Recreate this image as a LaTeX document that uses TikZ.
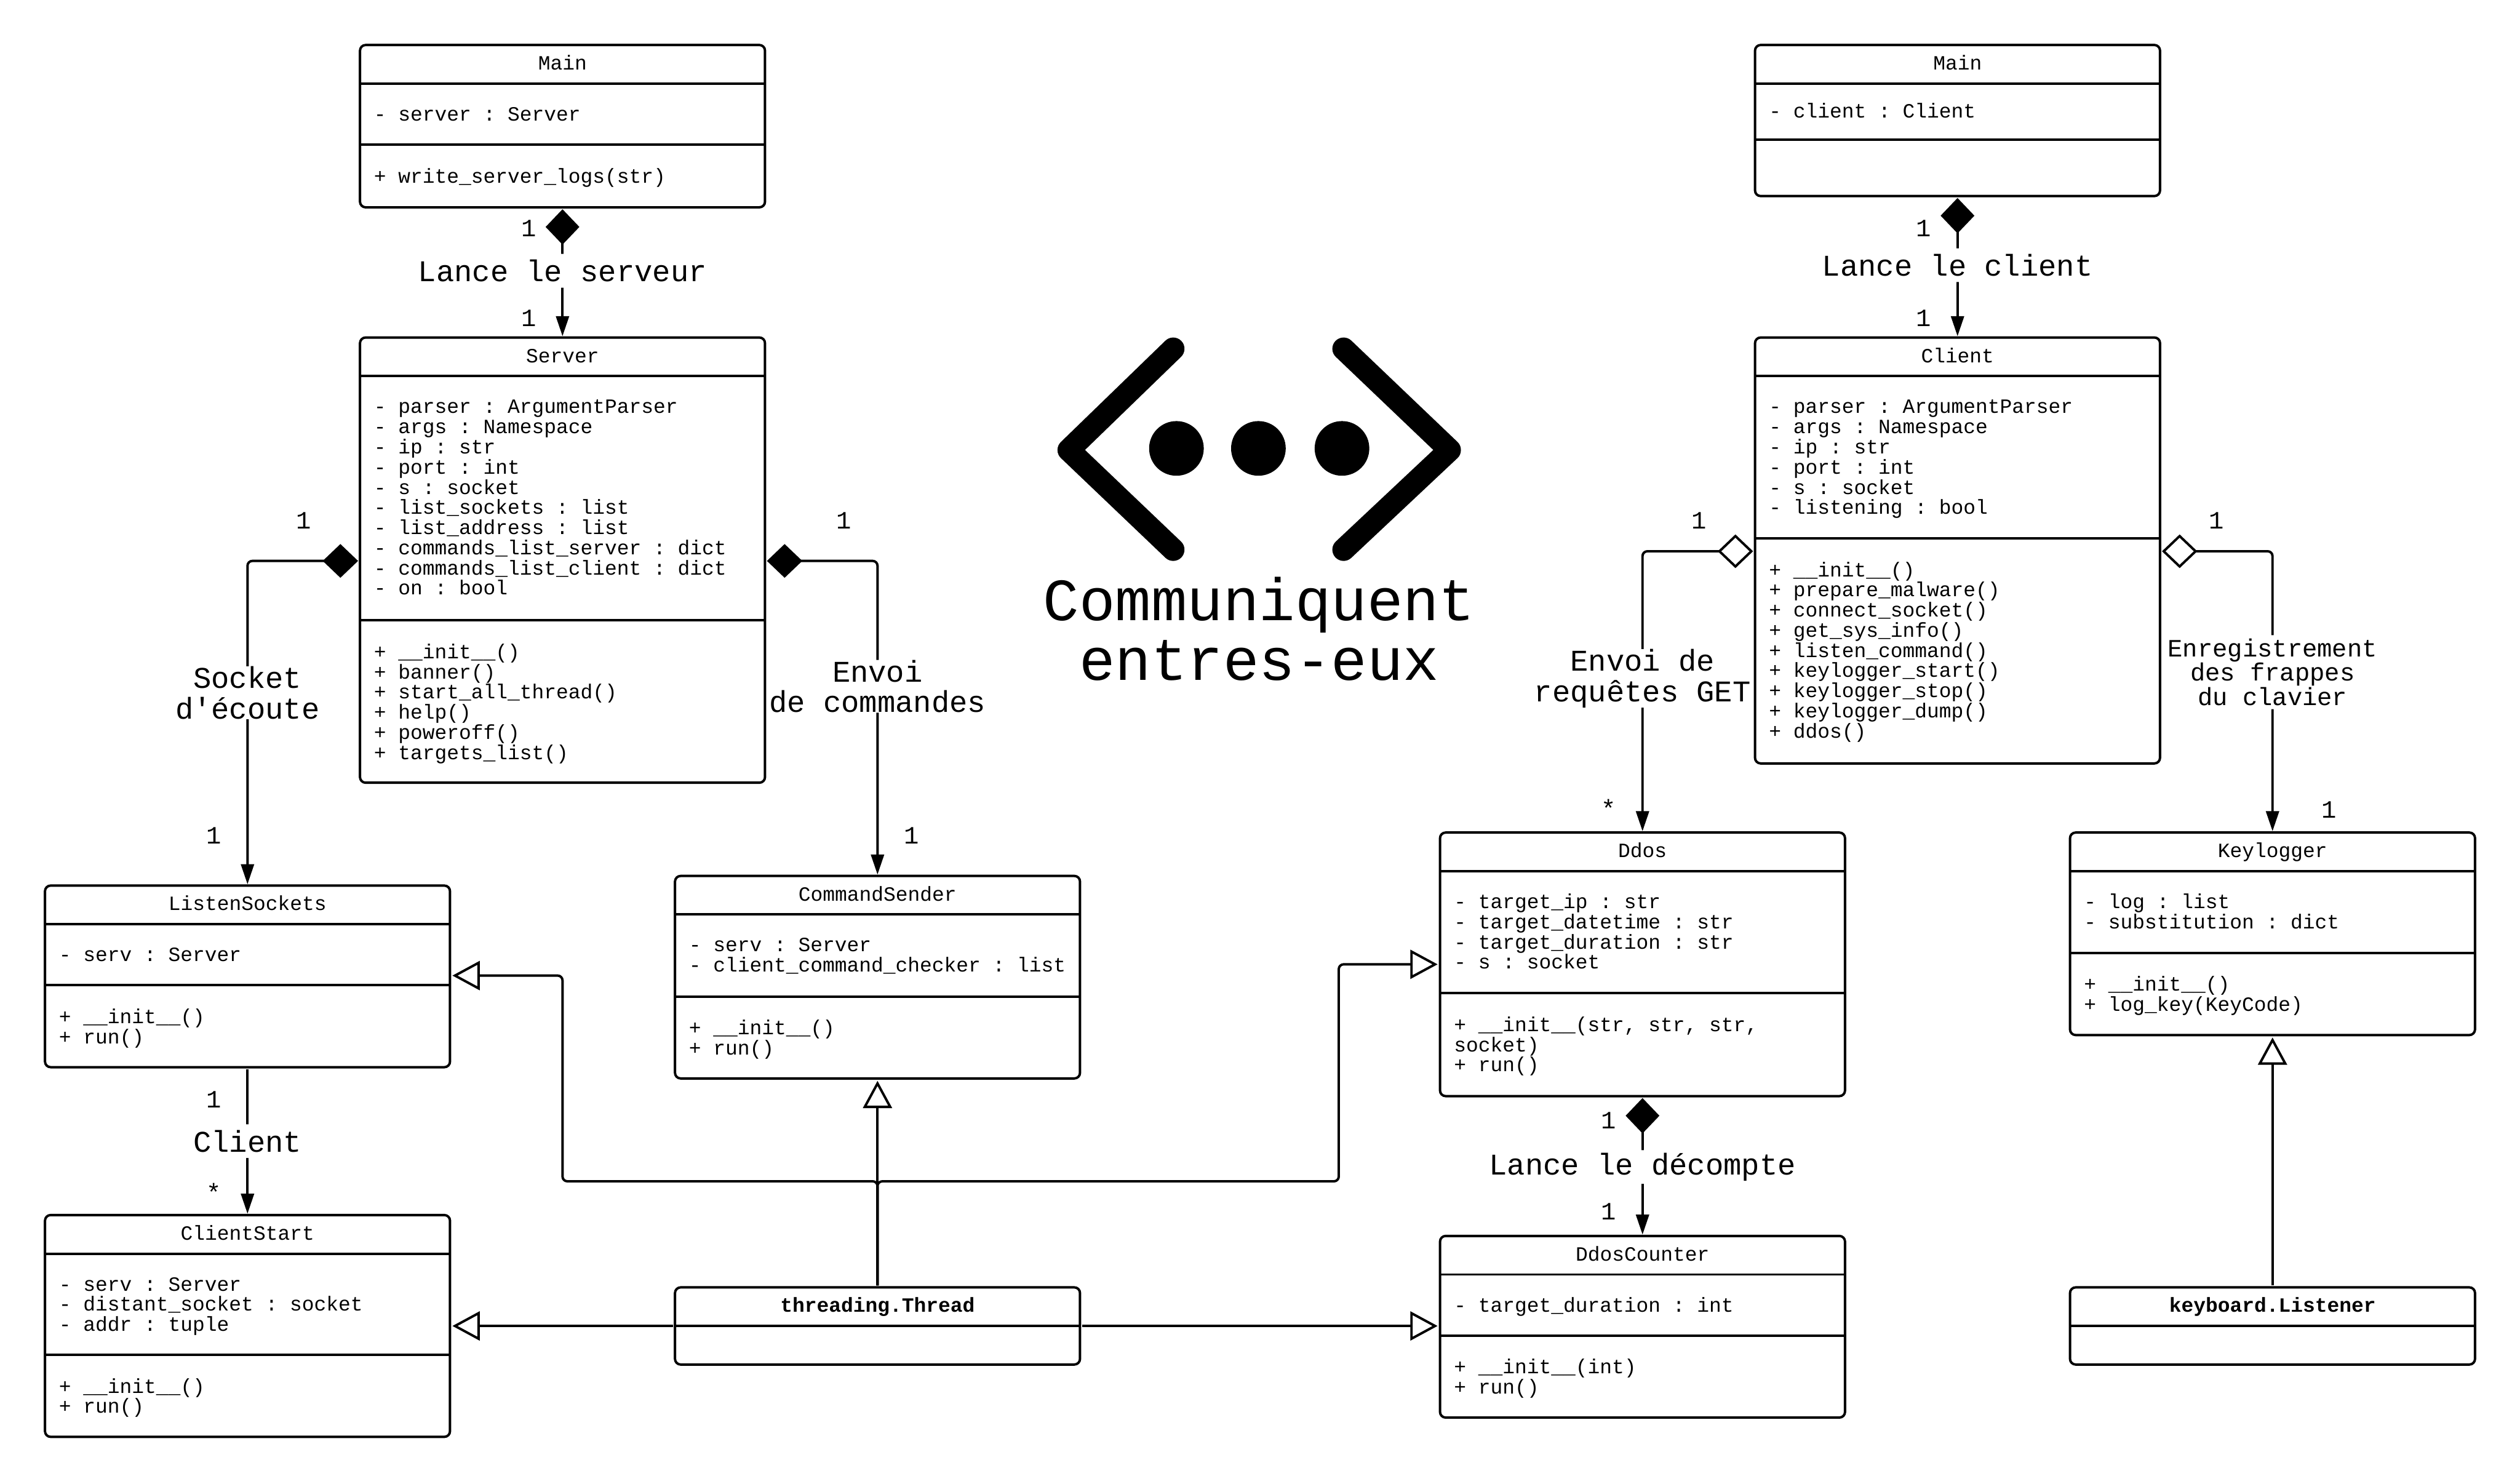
\documentclass[tikz,border=0pt]{standalone}
\usepackage{fontspec}
\usetikzlibrary{arrows.meta}
\newfontfamily\umlfont{Liberation Mono}
\frenchspacing
\tikzset{
  x=1pt,y=-1pt,
  classbox/.style={draw=black,fill=white,line width=1.5pt,rounded corners=3.5pt,inner sep=0pt,outer sep=0pt,minimum width=252pt,anchor=north west},
  sepline/.style={line width=1.5pt},
  titletext/.style={font=\umlfont\fontsize{12.6}{12.55}\selectfont,inner sep=0pt,anchor=base},
  bodytext/.style={font=\umlfont\fontsize{12.6}{12.55}\selectfont,inner sep=0pt,anchor=north west,align=left},
  mult/.style={font=\umlfont\fontsize{15.5}{15.5}\selectfont,inner sep=0pt},
  lbl/.style={font=\umlfont\fontsize{18.7}{19}\selectfont,fill=white,inner xsep=1pt,inner ysep=0pt,minimum height=21pt,align=center},
  lblsmall/.style={font=\umlfont\fontsize{15.5}{15.3}\selectfont,fill=white,inner xsep=1pt,inner ysep=2pt,align=center},
  conn/.style={line width=1.5pt,rounded corners=3pt,shorten <=1.2pt,shorten >=0.8pt},
  comp/.style={conn,{Diamond[length=22pt,width=21pt]}-{Triangle[length=12.5pt,width=8pt]}},
  aggr/.style={conn,{Diamond[open,fill=white,length=22pt,width=21pt]}-{Triangle[length=12.5pt,width=8pt]}},
  assoc/.style={conn,-{Triangle[length=12.5pt,width=8pt]}},
  inherit/.style={conn,shorten >=1.5pt,-{Triangle[open,fill=white,length=17pt,width=18pt]}},
  logostroke/.style={line width=14pt,line cap=round,line join=round},
}
% name, x, top, title bottom, attr bottom, box bottom, title, attrs, methods
\newcommand{\classbody}[9]{%
  \node[classbox,minimum height={(#6-#3)*1pt}] (#1) at (#2,#3) {};
  \draw[sepline] (#1.west |- 0,#4) -- (#1.east |- 0,#4);
  \draw[sepline] (#1.west |- 0,#5) -- (#1.east |- 0,#5);
  \node[titletext] (#1-t) at (#2+126,#3+15.5) {#7};
  \node[bodytext] (#1-a) at (#2+8.5,#4+\attroff-9.5) {\rule{0pt}{9.5pt}#8};
  \if\relax\detokenize{#9}\relax\else
  \node[bodytext] (#1-m) at (#2+8.5,#5+23.5-9.5) {\rule{0pt}{9.5pt}#9};
  \fi
}
\newcommand{\attroff}{23}
\newcommand{\classstub}[6]{%
  \node[classbox,minimum height={(#5-#3)*1pt}] (#1) at (#2,#3) {};
  \draw[sepline] (#1.west |- 0,#4) -- (#1.east |- 0,#4);
  \node[titletext] (#1-t) at (#2+126,#3+15.5) {\bfseries #6};
}
\begin{document}
\begin{tikzpicture}
\useasboundingbox[fill=white] (0,0) rectangle (1568,923.25);

% ---- classes ----
\classbody{mainL}{224}{28}{52}{90}{129}{Main}{- server : Server}{+ write\_server\_logs(str)}
\classbody{serverL}{224}{210}{234}{386}{487}{Server}{- parser : ArgumentParser\\- args : Namespace\\- ip : str\\- port : int\\- s : socket\\- list\_sockets : list\\- list\_address : list\\- commands\_list\_server : dict\\- commands\_list\_client : dict\\- on : bool}{+ \_\_init\_\_()\\+ banner()\\+ start\_all\_thread()\\+ help()\\+ poweroff()\\+ targets\_list()}
\classbody{listen}{28}{551}{575}{613}{664}{ListenSockets}{- serv : Server}{+ \_\_init\_\_()\\+ run()}
\classbody{clientstart}{28}{756}{780}{843}{894}{ClientStart}{- serv : Server\\- distant\_socket : socket\\- addr : tuple}{+ \_\_init\_\_()\\+ run()}
\classbody{command}{420}{545}{569}{620}{671}{CommandSender}{- serv : Server\\- client\_command\_checker : list}{+ \_\_init\_\_()\\+ run()}
\renewcommand{\attroff}{21}
\classbody{mainR}{1092}{28}{52}{87}{122}{Main}{- client : Client}{}
\renewcommand{\attroff}{23}
\classbody{client}{1092}{210}{234}{335}{475}{Client}{- parser : ArgumentParser\\- args : Namespace\\- ip : str\\- port : int\\- s : socket\\- listening : bool}{+ \_\_init\_\_()\\+ prepare\_malware()\\+ connect\_socket()\\+ get\_sys\_info()\\+ listen\_command()\\+ keylogger\_start()\\+ keylogger\_stop()\\+ keylogger\_dump()\\+ ddos()}
\classbody{ddos}{896}{518}{542}{618}{682}{Ddos}{- target\_ip : str\\- target\_datetime : str\\- target\_duration : str\\- s : socket}{+ \_\_init\_\_(str, str, str,\\socket)\\+ run()}
\classbody{counter}{896}{769}{793}{831}{882}{DdosCounter}{- target\_duration : int}{+ \_\_init\_\_(int)\\+ run()}
\classbody{keylogger}{1288}{518}{542}{593}{644}{Keylogger}{- log : list\\- substitution : dict}{+ \_\_init\_\_()\\+ log\_key(KeyCode)}
\classstub{thread}{420}{801}{825}{849}{threading.Thread}
\classstub{listener}{1288}{801}{825}{849}{keyboard.Listener}

% ---- associations ----
\draw[comp] (mainL.south) -- node[lbl,yshift=1pt] (lbA) {Lance le serveur} (serverL.north);
\draw[comp] (mainR.south) -- node[lbl,yshift=1pt] (lbB) {Lance le client} (client.north);
\draw[comp] (serverL.west |- 0,349) -| node[pos=.703,lbl] (lbC) {Socket\\d'écoute} (listen.north);
\draw[comp] (serverL.east |- 0,349) -| node[pos=.699,lbl] (lbD) {Envoi\\de commandes} (command.north);
\draw[assoc] (listen.south) -- node[lbl] (lbE) {Client} (clientstart.north);
\draw[aggr] (client.west |- 0,343) -| node[pos=.726,lbl] (lbF) {Envoi de\\requêtes GET} (ddos.north);
\draw[aggr] (client.east |- 0,343) -| node[pos=.715,lblsmall] (lbG) {Enregistrement\\des frappes\\du clavier} (keylogger.north);
\draw[comp] (ddos.south) -- node[lbl,yshift=-0.6pt] (lbH) {Lance le décompte} (counter.north);

% ---- inheritance ----
\coordinate (busC) at (546,735);
\coordinate (busL) at (350,607);
\coordinate (busR) at (833,600);
\draw[inherit] (thread.north) -- (command.south);
\draw[inherit] (thread.north) -- (busC) -| (busL) -- (listen.east |- busL);
\draw[inherit] (thread.north) -- (busC) -| (busR) -- (ddos.west |- busR);
\draw[inherit] (thread.west) -- (clientstart.east |- thread.west);
\draw[inherit] (thread.east) -- (counter.west |- thread.east);
\draw[inherit] (listener.north) -- (keylogger.south);

% ---- multiplicities ----
\node[mult] (m1) at (329,142) {1};
\node[mult] (m2) at (329,198) {1};
\node[mult] (m3) at (1197,142) {1};
\node[mult] (m4) at (1197,198) {1};
\node[mult] (m5) at (189,324) {1};
\node[mult] (m6) at (133,520) {1};
\node[mult] (m7) at (525,324) {1};
\node[mult] (m8) at (567,520) {1};
\node[mult] (m9) at (133,684) {1};
\node[mult] (m10) at (133,742) {*};
\node[mult] (m11) at (1057,324) {1};
\node[mult] (m12) at (1001,503) {*};
\node[mult] (m13) at (1379,324) {1};
\node[mult] (m14) at (1449,504) {1};
\node[mult] (m15) at (1001,697) {1};
\node[mult] (m16) at (1001,754) {1};

% ---- logo ----
\draw[logostroke] (730,217) -- (665,280) -- (730,342);
\draw[logostroke] (836,217) -- (902,280) -- (836,342);
\fill (732,279) circle (17);
\fill (783,279) circle (17);
\fill (835,279) circle (17);
\node[font=\umlfont\fontsize{37.3}{37}\selectfont,inner sep=0pt,align=center] (logotext) at (783.5,391.3) {Communiquent\\entres-eux};
\end{tikzpicture}
\end{document}
